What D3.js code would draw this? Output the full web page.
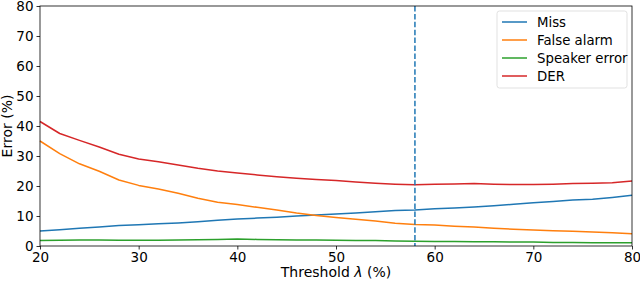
<!DOCTYPE html>
<html>
<head>
<meta charset="utf-8">
<script src="https://cdn.jsdelivr.net/npm/d3@7"></script>
<style>
  body { margin: 0; background: #fff; }
  text { font-family: "DejaVu Sans", sans-serif; }
</style>
</head>
<body>
<div id="chart"></div>
<script>
const thresholds = [20, 22, 24, 26, 28, 30, 32, 34, 36, 38, 40, 42, 44, 46, 48, 50,
  52, 54, 56, 58, 60, 62, 64, 66, 68, 70, 72, 74, 76, 78, 80];
const miss = [5.0, 5.4, 5.9, 6.3, 6.8, 7.1, 7.4, 7.7, 8.1, 8.6, 9.0, 9.3, 9.6, 10.0, 10.3, 10.7,
  11.0, 11.4, 11.8, 12.0, 12.4, 12.7, 13.0, 13.4, 13.9, 14.4, 14.8, 15.3, 15.6, 16.2, 16.9];
const falseAlarm = [35.0, 30.8, 27.4, 24.9, 22.0, 20.2, 19.0, 17.6, 15.9, 14.6, 13.8, 12.9, 12.0, 11.0, 10.2, 9.5,
  8.9, 8.3, 7.6, 7.2, 7.0, 6.6, 6.3, 5.9, 5.6, 5.3, 5.1, 4.9, 4.7, 4.4, 4.1];
const speakerError = [1.8, 1.9, 2.0, 2.0, 1.9, 1.9, 1.9, 2.0, 2.1, 2.2, 2.3, 2.2, 2.1, 2.0, 2.0, 1.9,
  1.8, 1.8, 1.7, 1.6, 1.5, 1.5, 1.4, 1.4, 1.3, 1.3, 1.2, 1.2, 1.1, 1.1, 1.1];
const der = [41.5, 37.5, 35.2, 33.0, 30.6, 29.0, 28.1, 27.0, 25.9, 25.0, 24.3, 23.7, 23.1, 22.6, 22.2, 21.8,
  21.3, 20.9, 20.6, 20.4, 20.6, 20.7, 20.8, 20.6, 20.5, 20.5, 20.6, 20.8, 20.9, 21.1, 21.7];
const seriesNames = ["Miss", "False alarm", "Speaker error", "DER"];
const seriesColors = ["#1f77b4", "#ff7f0e", "#2ca02c", "#d62728"];
const xTicks = [20, 30, 40, 50, 60, 70, 80];
const yTicks = [0, 10, 20, 30, 40, 50, 60, 70, 80];
const bestThreshold = 58;

const width = 640;
const height = 281;
const margin = { top: 6, right: 8, bottom: 35, left: 40 };

const svg = d3.select('#chart')
  .append('svg')
  .attr('width', width)
  .attr('height', height);

const x = d3.scaleLinear()
  .domain([20, 80])
  .range([margin.left, width - margin.right]);

const y = d3.scaleLinear()
  .domain([0, 80])
  .range([height - margin.bottom, margin.top]);

const series = [miss, falseAlarm, speakerError, der];

const line = d3.line()
  .x((d, i) => x(thresholds[i]))
  .y(d => y(d));

svg.append('g')
  .selectAll('path')
  .data(series)
  .join('path')
    .attr('fill', 'none')
    .attr('stroke', (d, i) => seriesColors[i])
    .attr('stroke-width', 1.5)
    .attr('stroke-linejoin', 'round')
    .attr('d', line);

// chosen threshold
svg.append('line')
  .attr('x1', x(bestThreshold)).attr('x2', x(bestThreshold))
  .attr('y1', y(80)).attr('y2', y(0))
  .attr('stroke', '#1f77b4')
  .attr('stroke-width', 1.5)
  .attr('stroke-dasharray', '5.5,2.4');

function xAxis(g) {
  g.attr('transform', `translate(0,${height - margin.bottom})`)
    .call(d3.axisBottom(x).tickValues(xTicks).tickSize(3.5).tickPadding(3))
    .attr('font-size', '13.5px')
    .attr('font-family', '"DejaVu Sans", sans-serif');
  g.select('.domain').remove();
}

function yAxis(g) {
  g.attr('transform', `translate(${margin.left},0)`)
    .call(d3.axisLeft(y).tickValues(yTicks).tickSize(3.5).tickPadding(3))
    .attr('font-size', '13.5px')
    .attr('font-family', '"DejaVu Sans", sans-serif');
  g.select('.domain').remove();
}

svg.append('g').call(xAxis);
svg.append('g').call(yAxis);
svg.selectAll('.tick text').attr('fill', '#000');
svg.selectAll('.tick line').attr('stroke', '#000').attr('stroke-width', 0.8);

// frame
svg.append('rect')
  .attr('x', margin.left)
  .attr('y', margin.top)
  .attr('width', width - margin.left - margin.right)
  .attr('height', height - margin.top - margin.bottom)
  .attr('fill', 'none')
  .attr('stroke', '#000')
  .attr('stroke-width', 0.8);

// axis labels
const xLabel = svg.append('text')
  .attr('x', (margin.left + width - margin.right) / 2)
  .attr('y', height - 4)
  .attr('text-anchor', 'middle')
  .attr('font-size', '14px');
xLabel.append('tspan').text('Threshold ');
xLabel.append('tspan').attr('font-style', 'italic').text('λ');
xLabel.append('tspan').text(' (%)');

svg.append('text')
  .attr('transform', `translate(12,${(margin.top + height - margin.bottom) / 2}) rotate(-90)`)
  .attr('text-anchor', 'middle')
  .attr('font-size', '14px')
  .text('Error (%)');

// legend
const legend = svg.append('g')
  .attr('transform', 'translate(497,11)');

legend.append('rect')
  .attr('width', 130)
  .attr('height', 77)
  .attr('rx', 2.5)
  .attr('fill', '#fff')
  .attr('fill-opacity', 0.8)
  .attr('stroke', '#d9d9d9')
  .attr('stroke-width', 0.8);

const items = legend.selectAll('g.item')
  .data(seriesNames)
  .join('g')
    .attr('class', 'item')
    .attr('transform', (d, i) => `translate(0,${11 + i * 18})`);

items.append('line')
  .attr('x1', 5).attr('x2', 30)
  .attr('stroke', (d, i) => seriesColors[i])
  .attr('stroke-width', 1.5);

items.append('text')
  .attr('x', 40)
  .attr('dy', '0.35em')
  .attr('font-size', '13.3px')
  .text(d => d);
</script>
</body>
</html>
